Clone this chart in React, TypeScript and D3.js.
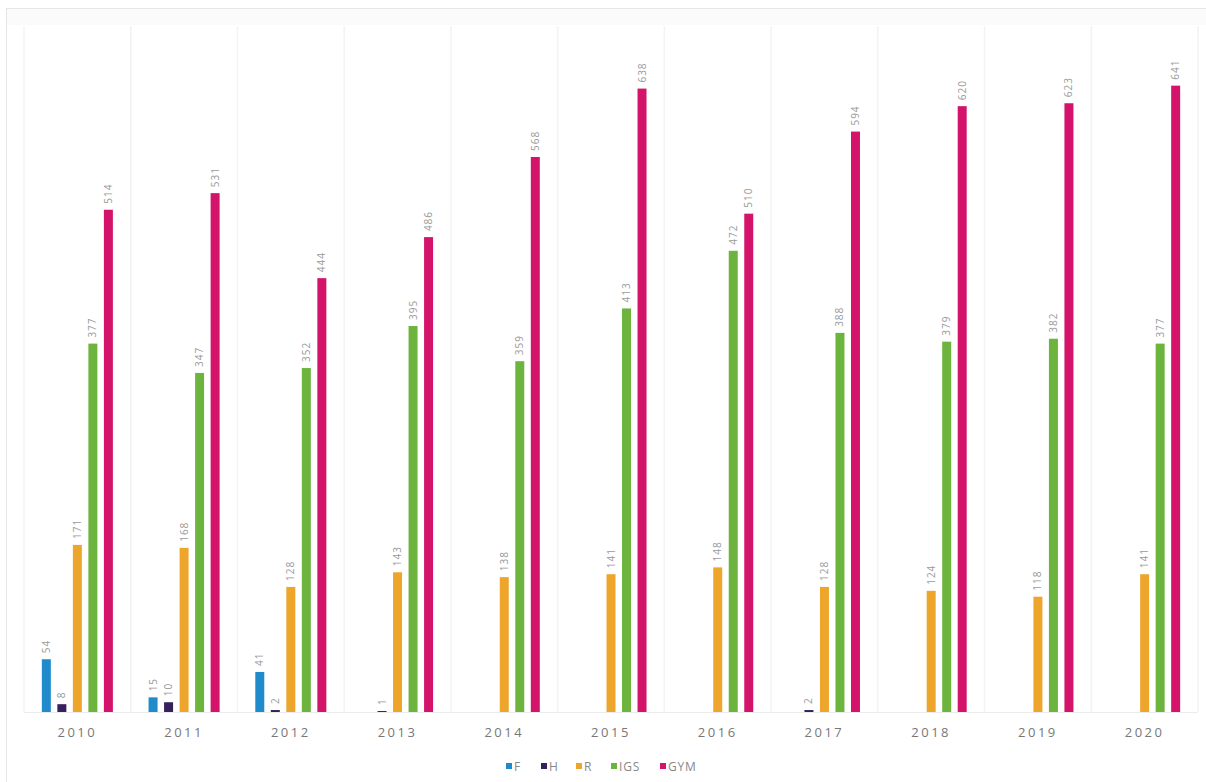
import React from "react";
import * as d3 from "d3";

const years = ["2010","2011","2012","2013","2014","2015","2016","2017","2018","2019","2020"];
const seriesNames = ["F","H","R","IGS","GYM"];
const seriesColors = ["#1f8bcb","#35215c","#eea52c","#6cb43e","#d4146a"];
const fValues = [54,15,41,0,0,0,0,0,0,0,0];
const hValues = [8,10,2,1,0,0,0,2,0,0,0];
const rValues = [171,168,128,143,138,141,148,128,124,118,141];
const igsValues = [377,347,352,395,359,413,472,388,379,382,377];
const gymValues = [514,531,444,486,568,638,510,594,620,623,641];
const allSeries = [fValues,hValues,rValues,igsValues,gymValues];

const W = 1206, H = 782;
const left = 24, right = 1198, top = 28, bottom = 712;

export default function App() {
  const x0 = d3.scaleBand<string>().domain(years).range([left, right]).padding(0);
  const x1 = d3.scaleBand<string>().domain(seriesNames).range([0, x0.bandwidth()]).paddingInner(0.42).paddingOuter(1.15);
  const y = d3.scaleLinear().domain([0, 700]).range([bottom, top]);
  const font = "'Open Sans', 'Noto Sans', sans-serif";

  const charW = 7;
  const textWidths = seriesNames.map(n => n.length * charW + 1);
  const itemWidths = textWidths.map(t => 8 + t + 19);
  const contentTotal = d3.sum(itemWidths) - 19;
  let lx = 598 - contentTotal / 2;
  const legendX = itemWidths.map(w => { const v = lx; lx += w; return v; });

  return (
    <svg width={W} height={H} style={{ position: "absolute", left: 0, top: 0, background: "#fff" }} fontFamily={font}>
      <rect x={6.5} y={8.5} width={W - 6} height={H - 8} fill="none" stroke="#e6e6e6" />
      <rect x={7} y={9} width={W - 7} height={16} fill="#fbfbfb" />
      {years.map((yr) => (
        <line key={"sep" + yr} x1={x0(yr)!} x2={x0(yr)!} y1={26} y2={bottom} stroke="#f3f3f3" strokeWidth={1.5} />
      ))}
      <line x1={right} x2={right} y1={26} y2={bottom} stroke="#f3f3f3" strokeWidth={1.5} />
      <line x1={left} x2={right} y1={bottom + 0.5} y2={bottom + 0.5} stroke="#ececec" />
      {years.map((yr, i) => (
        <g key={yr} transform={`translate(${x0(yr)},0)`}>
          {seriesNames.map((s, si) => {
            const v = allSeries[si][i];
            if (!v) return null;
            const bx = x1(s)!;
            const by = y(v);
            return (
              <g key={s}>
                <rect x={bx} y={by} width={x1.bandwidth()} height={bottom - by} fill={seriesColors[si]} />
                <text
                  transform={`translate(${bx + x1.bandwidth() / 2 + 3.5},${by - 6}) rotate(-90)`}
                  fontSize={10}
                  fill="#9a9a9a"
                  letterSpacing={1}
                >{v}</text>
              </g>
            );
          })}
          <text x={x0.bandwidth() / 2} y={737} textAnchor="middle" fontSize={13} fill="#777" letterSpacing={2.5}>{yr}</text>
        </g>
      ))}
      {seriesNames.map((s, si) => (
        <g key={"lg" + s} transform={`translate(${legendX[si]},766)`}>
          <rect x={0} y={-3} width={6} height={6} fill={seriesColors[si]} />
          <text x={8} y={4.5} fontSize={12} fill="#888" letterSpacing={0.8}>{s}</text>
        </g>
      ))}
    </svg>
  );
}
